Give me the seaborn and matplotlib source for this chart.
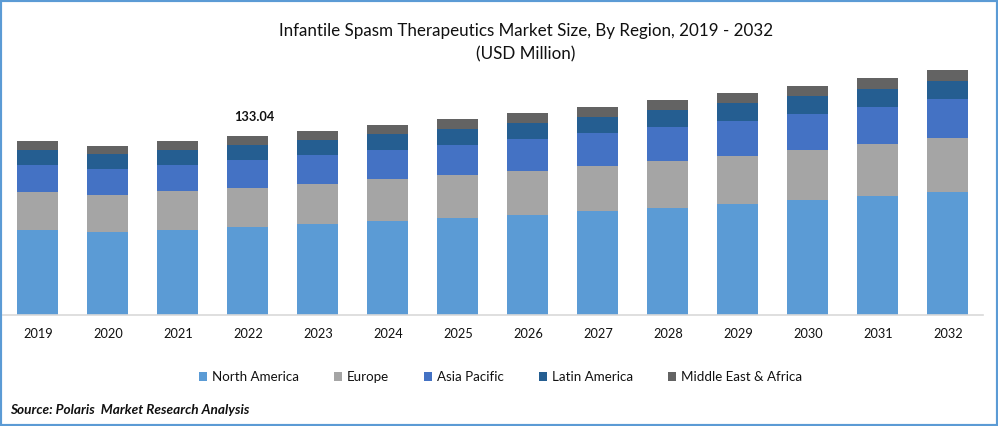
import matplotlib
matplotlib.use('Agg')
import matplotlib.pyplot as plt
from matplotlib.patches import Rectangle
import numpy as np
import pandas as pd
import seaborn as sns

years = [2019, 2020, 2021, 2022, 2023, 2024, 2025, 2026, 2027, 2028, 2029, 2030, 2031, 2032]
north_america = [63.2, 61.7, 63.2, 65.4, 67.6, 69.9, 72.1, 74.3, 77.3, 79.5, 82.5, 85.5, 88.4, 91.4]
europe = [28.2, 27.5, 29.0, 29.0, 29.7, 31.2, 32.0, 32.7, 33.4, 34.9, 35.7, 37.2, 38.6, 40.1]
asia_pacific = [20.1, 19.3, 19.3, 20.8, 21.6, 21.6, 22.3, 23.8, 24.5, 25.3, 26.0, 26.8, 27.5, 29.0]
latin_america = [11.1, 11.1, 11.1, 11.1, 11.1, 11.9, 11.9, 11.9, 11.9, 12.6, 13.4, 13.4, 13.4, 13.4]
middle_east_africa = [6.7, 5.9, 6.7, 6.7, 6.7, 6.7, 7.4, 7.4, 7.4, 7.4, 7.4, 7.4, 8.2, 8.2]

regions = ['North America', 'Europe', 'Asia Pacific', 'Latin America', 'Middle East & Africa']
colors = ['#5B9BD5', '#A5A5A5', '#4472C4', '#255E91', '#636363']

W, H = 998, 426

sns.set_theme(style='white')
plt.rcParams['font.family'] = ['Lato', 'DejaVu Sans']

df = pd.DataFrame({
    'year': years,
    'North America': north_america,
    'Europe': europe,
    'Asia Pacific': asia_pacific,
    'Latin America': latin_america,
    'Middle East & Africa': middle_east_africa,
})

fig = plt.figure(figsize=(W / 100, H / 100), dpi=100)
ax = fig.add_axes([3 / W, 1 - 315 / H, 980 / W, 255 / H])

# Stack the regions from the bottom up
bottom = np.zeros(len(df))
for region, color in zip(regions, colors):
    sns.barplot(data=df, x='year', y=region, color=color, saturation=1, width=41 / 70,
                bottom=bottom, label=region, ax=ax, legend=False, linewidth=0, edgecolor='none')
    bottom += df[region].values

ax.set_xlim(-0.5, 13.5)
ax.set_ylim(0, 189.5)
ax.set_xlabel('')
ax.set_ylabel('')
ax.set_yticks([])
ax.tick_params(axis='x', length=0, pad=9, labelsize=9.2, labelcolor='#111111')
sns.despine(ax=ax, left=True)
ax.spines['bottom'].set_color('#D9D9D9')
ax.spines['bottom'].set_linewidth(1.2)

# Label for 2022 only
ax.text(3.09, bottom[3] + 14, '133.04', ha='center', va='center', fontsize=9.2, fontweight='bold', color='#111111')

fig.text(526 / W, 1 - 42.5 / H, 'Infantile Spasm Therapeutics Market Size, By Region, 2019 - 2032\n(USD Million)',
         ha='center', va='center', fontsize=12.25, linespacing=1.55, color='#111111')

handles, labels = ax.get_legend_handles_labels()
fig.legend(handles, labels, loc='center', bbox_to_anchor=(500.5 / W, 1 - 377 / H), ncol=5, frameon=False,
           fontsize=9.65, handlelength=0.6, handleheight=0.6, handletextpad=0.35, columnspacing=2.63,
           labelcolor='#111111')

fig.text(10 / W, 1 - 410 / H, 'Source: Polaris  Market Research Analysis', ha='left', va='center',
         fontsize=9.8, fontweight='bold', fontstyle='italic', color='#111111')

# Blue frame round the image
fig.add_artist(Rectangle((0, 0), 1, 1, transform=fig.transFigure, fill=False, edgecolor='#5B9BD5', linewidth=3))

fig.savefig('out.png', dpi=100)
plt.close(fig)
